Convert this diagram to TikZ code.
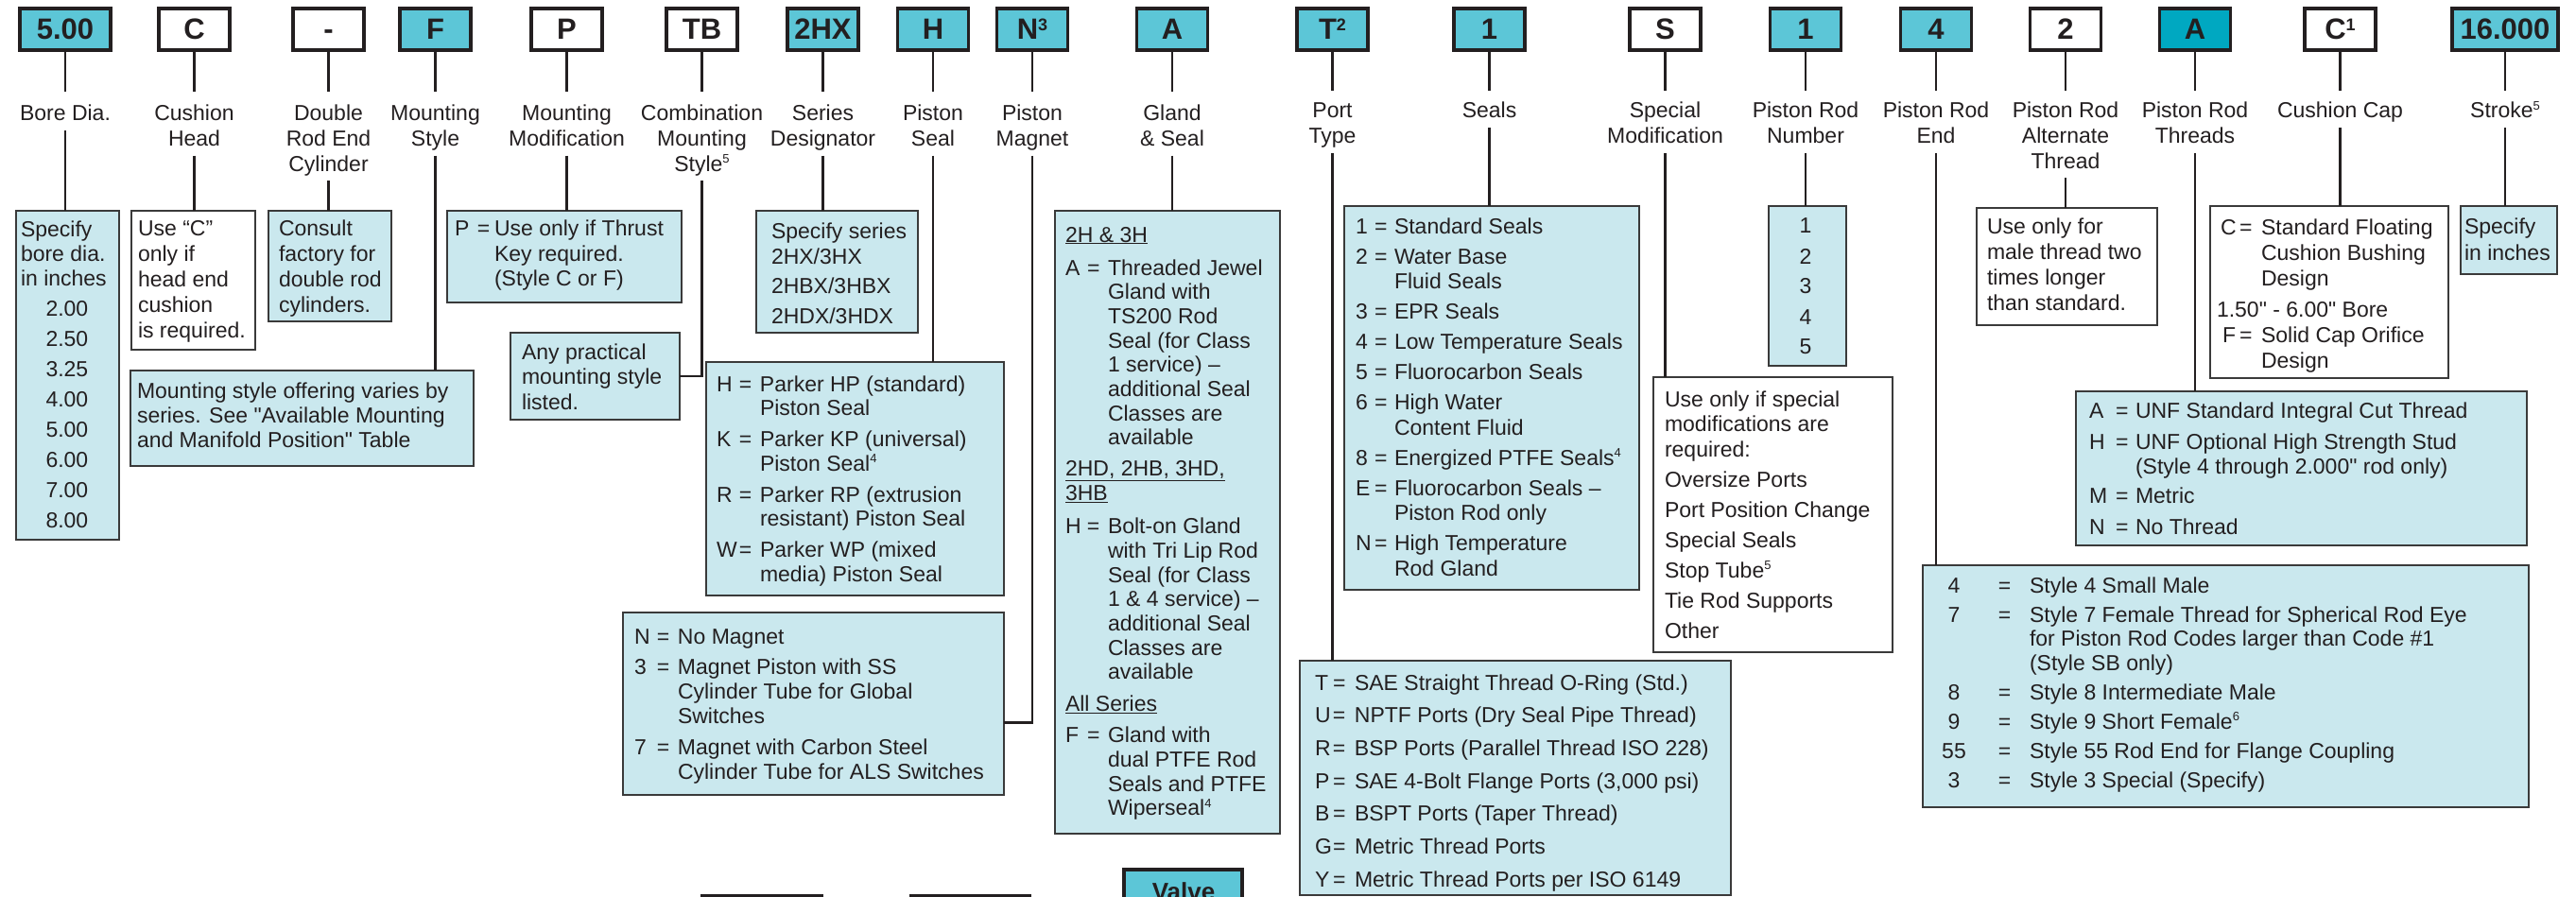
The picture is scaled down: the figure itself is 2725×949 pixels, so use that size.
\documentclass[tikz,border=0pt]{standalone}
\usepackage{fontspec}
\setmainfont{Liberation Sans}[Ligatures=TeXOff]
\usetikzlibrary{calc}
\definecolor{ink}{HTML}{231F20}
\definecolor{cyanbox}{HTML}{5CC6D7}
\definecolor{tealbox}{HTML}{00A8C1}
\definecolor{lightbox}{HTML}{CAE8EE}
\definecolor{frame}{HTML}{3A3A3A}
\newcommand\fs{\rule{0pt}{20pt}}
\newcommand\ls{\rule[-6pt]{0pt}{0pt}}
\newcommand\sups[1]{\raisebox{0.38em}{\fontsize{13}{13}\selectfont #1}}
\newcommand\topsup[1]{\raisebox{0.3em}{\fontsize{18}{18}\selectfont #1}}
\newcommand\kv[3]{\makebox[#1][l]{#3}\makebox[#2][l]{=}}
\begin{document}
\begin{tikzpicture}[x=1pt,y=-1pt,
 every node/.style={inner sep=0pt, outer sep=0pt, text=ink},
 code/.style={draw=ink, line width=3.4pt, minimum height=44pt, minimum width=75pt, text height=22pt, text depth=0pt, font=\fontsize{31}{31}\selectfont\bfseries},
 codec/.style={code, fill=cyanbox},
 codew/.style={code, fill=white},
 codet/.style={code, fill=tealbox},
 lab/.style={align=center, anchor=north, font=\fontsize{23}{26.7}\selectfont},
 txt/.style={align=left, anchor=north west, font=\fontsize{23}{26.3}\selectfont},
 infol/.style={draw=frame, fill=lightbox, line width=1.4pt, anchor=north west},
 infow/.style={draw=frame, fill=white, line width=1.4pt, anchor=north west},
 conn/.style={draw=ink, line width=2.5pt},
 down/.style={conn, shorten <=4pt},
]
\useasboundingbox (0,0) rectangle (2725,949);
\clip (0,0) rectangle (2725,949);
\fill[white] (0,0) rectangle (2725,949);

% ---------- top code boxes ----------
\node[codec, minimum width=96pt] (b1) at (69,31) {5.00};
\node[codew] (b2) at (205.5,31) {C};
\node[codew] (b3) at (347.5,31) {-};
\node[codec] (b4) at (460.5,31) {F};
\node[codew] (b5) at (599.5,31) {P};
\node[codew] (b6) at (742.5,31) {TB};
\node[codec] (b7) at (870.5,31) {2HX};
\node[codec] (b8) at (987,31) {H};
\node[codec] (b9) at (1092,31) {N\topsup{3}};
\node[codec] (b10) at (1240,31) {A};
\node[codec] (b11) at (1409.5,31) {T\topsup{2}};
\node[codec] (b12) at (1575.5,31) {1};
\node[codew] (b13) at (1761.5,31) {S};
\node[codec] (b14) at (1910,31) {1};
\node[codec] (b15) at (2048,31) {4};
\node[codew] (b16) at (2185,31) {2};
\node[codet] (b17) at (2322,31) {A};
\node[codew] (b18) at (2475.5,31) {C\topsup{1}};
\node[codec, minimum width=112pt] (b19) at (2650,31) {16.000};

% ---------- labels ----------
\node[lab] (l1) at (69,108) {\fs Bore Dia.\ls};
\node[lab] (l2) at (205.5,108) {\fs Cushion\\Head\ls};
\node[lab] (l3) at (347.5,108) {\fs Double\\Rod End\\Cylinder\ls};
\node[lab] (l4) at (460.5,108) {\fs Mounting\\Style\ls};
\node[lab] (l5) at (599.5,108) {\fs Mounting\\Modification\ls};
\node[lab] (l6) at (742.5,108) {\fs Combination\\Mounting\\Style\sups{5}\ls};
\node[lab] (l7) at (870.5,108) {\fs Series\\Designator\ls};
\node[lab] (l8) at (987,108) {\fs Piston\\Seal\ls};
\node[lab] (l9) at (1092,108) {\fs Piston\\Magnet\ls};
\node[lab] (l10) at (1240,108) {\fs Gland\\\& Seal\ls};
\node[lab] (l11) at (1409.5,105) {\fs Port\\Type\ls};
\node[lab] (l12) at (1575.5,105) {\fs Seals\ls};
\node[lab] (l13) at (1761.5,105) {\fs Special\\Modification\ls};
\node[lab] (l14) at (1910,105) {\fs Piston Rod\\Number\ls};
\node[lab] (l15) at (2048,105) {\fs Piston Rod\\End\ls};
\node[lab] (l16) at (2185,105) {\fs Piston Rod\\Alternate\\Thread\ls};
\node[lab] (l17) at (2322,105) {\fs Piston Rod\\Threads\ls};
\node[lab] (l18) at (2475.5,105) {\fs Cushion Cap\ls};
\node[lab] (l19) at (2650,105) {\fs Stroke\sups{5}\ls};

% ---------- info boxes ----------
\node[infol, minimum width=109pt, minimum height=348pt] (bore) at (17,223) {};
\node[infow, minimum width=131pt, minimum height=147pt] (usec) at (139,223) {};
\node[infol, minimum width=130pt, minimum height=117pt] (consult) at (284,223) {};
\node[infol, minimum width=363pt, minimum height=101pt] (mstyle) at (138,392) {};
\node[infol, minimum width=248pt, minimum height=97pt] (pbox) at (473,223) {};
\node[infol, minimum width=179pt, minimum height=92pt] (anyp) at (540,352) {};
\node[infol, minimum width=171pt, minimum height=129pt] (series) at (800,223) {};
\node[infol, minimum width=315pt, minimum height=247pt] (pseal) at (747,383) {};
\node[infol, minimum width=403pt, minimum height=193pt] (magnet) at (659,648) {};
\node[infol, minimum width=238pt, minimum height=659pt] (gland) at (1116,223) {};
\node[infol, minimum width=456pt, minimum height=248pt] (port) at (1375,699) {};
\node[infol, minimum width=312pt, minimum height=406pt] (seals) at (1422,218) {};
\node[infow, minimum width=253pt, minimum height=291pt] (special) at (1749,399) {};
\node[infol, minimum width=82pt, minimum height=169pt] (number) at (1871,218) {};
\node[infol, minimum width=641pt, minimum height=256pt] (rodend) at (2034,598) {};
\node[infow, minimum width=191pt, minimum height=124pt] (alt) at (2091,220) {};
\node[infol, minimum width=477pt, minimum height=163pt] (threads) at (2196,414) {};
\node[infow, minimum width=252pt, minimum height=182pt] (ccap) at (2338,218) {};
\node[infol, minimum width=102pt, minimum height=72pt] (stroke) at (2603,218) {};

% bottom (cut off) boxes
\node[draw=ink, line width=3.4pt, fill=cyanbox, anchor=north west, minimum width=125pt, minimum height=60pt] (valve) at (1189,920) {};
\node[font=\fontsize{26}{26}\selectfont\bfseries, anchor=base] (valvet) at (1252,952) {Valve};
\node[draw=ink, line width=3.4pt, fill=white, anchor=north west, minimum width=126pt, minimum height=40pt] (bx1) at (743,947.5) {};
\node[draw=ink, line width=3.4pt, fill=white, anchor=north west, minimum width=125pt, minimum height=40pt] (bx2) at (964,947.5) {};

% ---------- texts in boxes ----------
\node[txt] (tbore) at (22,230) {\fs Specify\\bore dia.\\in inches\\[5.7pt]\hspace*{26.5pt}2.00\\[5.7pt]\hspace*{26.5pt}2.50\\[5.7pt]\hspace*{26.5pt}3.25\\[5.7pt]\hspace*{26.5pt}4.00\\[5.7pt]\hspace*{26.5pt}5.00\\[5.7pt]\hspace*{26.5pt}6.00\\[5.7pt]\hspace*{26.5pt}7.00\\[5.7pt]\hspace*{26.5pt}8.00};
\node[txt, font=\fontsize{23}{27}\selectfont] (tusec) at (146,230) {\fs Use “C”\\only if\\head end\\cushion\\is required.};
\node[txt, font=\fontsize{23}{26.7}\selectfont] (tconsult) at (295,230) {\fs Consult\\factory for\\double rod\\cylinders.};
\node[txt, font=\fontsize{23}{26}\selectfont] (tmstyle) at (145,401) {\fs Mounting style offering varies by\\series. See "Available Mounting\\and Manifold Position" Table};
\node[txt, font=\fontsize{23}{26.5}\selectfont] (tpbox) at (481,230) {\fs\kv{24pt}{18pt}{P}Use only if Thrust\\\hspace*{42pt}Key required.\\\hspace*{42pt}(Style C or F)};
\node[txt, font=\fontsize{23}{26.5}\selectfont] (tanyp) at (552,360) {\fs Any practical\\mounting style\\listed.};
\node[txt] (tseries) at (816,233) {\fs Specify series\\2HX/3HX\\[5pt]2HBX/3HBX\\[5.7pt]2HDX/3HDX};
\node[txt, font=\fontsize{23}{25.5}\selectfont] (tpseal) at (758,394) {\fs\kv{24pt}{22pt}{H}Parker HP (standard)\\\hspace*{46pt}Piston Seal\\[7.5pt]\kv{24pt}{22pt}{K}Parker KP (universal)\\\hspace*{46pt}Piston Seal\sups{4}\\[7.5pt]\kv{24pt}{22pt}{R}Parker RP (extrusion\\\hspace*{46pt}resistant) Piston Seal\\[7.5pt]\kv{24pt}{22pt}{W}Parker WP (mixed\\\hspace*{46pt}media) Piston Seal};
\node[txt] (tmagnet) at (671,661) {\fs\kv{24pt}{22pt}{N}No Magnet\\[5.7pt]\kv{24pt}{22pt}{3}Magnet Piston with SS\\\hspace*{46pt}Cylinder Tube for Global\\\hspace*{46pt}Switches\\[6.7pt]\kv{24pt}{22pt}{7}Magnet with Carbon Steel\\\hspace*{46pt}Cylinder Tube for ALS Switches};
\node[txt, font=\fontsize{23}{25.7}\selectfont] (tgland) at (1127,236) {\fs\underline{2H \& 3H}\\[9.3pt]\kv{23pt}{22pt}{A}Threaded Jewel\\\hspace*{45pt}Gland with\\\hspace*{45pt}TS200 Rod\\\hspace*{45pt}Seal (for Class\\\hspace*{45pt}1 service) –\\\hspace*{45pt}additional Seal\\\hspace*{45pt}Classes are\\\hspace*{45pt}available\\[7.3pt]\underline{2HD, 2HB, 3HD,}\\\underline{3HB}\\[9.3pt]\kv{23pt}{22pt}{H}Bolt-on Gland\\\hspace*{45pt}with Tri Lip Rod\\\hspace*{45pt}Seal (for Class\\\hspace*{45pt}1 \& 4 service) –\\\hspace*{45pt}additional Seal\\\hspace*{45pt}Classes are\\\hspace*{45pt}available\\[8.3pt]\underline{All Series}\\[7.3pt]\kv{23pt}{22pt}{F}Gland with\\\hspace*{45pt}dual PTFE Rod\\\hspace*{45pt}Seals and PTFE\\\hspace*{45pt}Wiperseal\sups{4}};
\node[txt] (tport) at (1391,710) {\fs\kv{19pt}{23pt}{T}SAE Straight Thread O-Ring (Std.)\\[8.4pt]\kv{19pt}{23pt}{U}NPTF Ports (Dry Seal Pipe Thread)\\[8.4pt]\kv{19pt}{23pt}{R}BSP Ports (Parallel Thread ISO 228)\\[8.4pt]\kv{19pt}{23pt}{P}SAE 4-Bolt Flange Ports (3,000 psi)\\[8.4pt]\kv{19pt}{23pt}{B}BSPT Ports (Taper Thread)\\[8.4pt]\kv{19pt}{23pt}{G}Metric Thread Ports\\[8.4pt]\kv{19pt}{23pt}{Y}Metric Thread Ports per ISO 6149};
\node[txt, font=\fontsize{23}{26.5}\selectfont] (tseals) at (1434,227) {\fs\kv{20pt}{21pt}{1}Standard Seals\\[5.5pt]\kv{20pt}{21pt}{2}Water Base\\\hspace*{41pt}Fluid Seals\\[5.5pt]\kv{20pt}{21pt}{3}EPR Seals\\[5.5pt]\kv{20pt}{21pt}{4}Low Temperature Seals\\[5.5pt]\kv{20pt}{21pt}{5}Fluorocarbon Seals\\[5.5pt]\kv{20pt}{21pt}{6}High Water\\\hspace*{41pt}Content Fluid\\[5.5pt]\kv{20pt}{21pt}{8}Energized PTFE Seals\sups{4}\\[5.5pt]\kv{20pt}{21pt}{E}Fluorocarbon Seals –\\\hspace*{41pt}Piston Rod only\\[5.5pt]\kv{20pt}{21pt}{N}High Temperature\\\hspace*{41pt}Rod Gland};
\node[txt, font=\fontsize{23}{26.5}\selectfont] (tspecial) at (1761,410) {\fs Use only if special\\modifications are\\required:\\[5.5pt]Oversize Ports\\[5.5pt]Port Position Change\\[5.5pt]Special Seals\\[5.5pt]Stop Tube\sups{5}\\[5.5pt]Tie Rod Supports\\[5.5pt]Other};
\node[txt, align=center, anchor=north] (tnumber) at (1910,227) {\fs 1\\[5.7pt]2\\[5.7pt]3\\[5.7pt]4\\[5.7pt]5};
\node[txt, font=\fontsize{23}{25.5}\selectfont] (trodend) at (2040,607) {\fs\makebox[54pt]{4}\makebox[53pt]{=}Style 4 Small Male\\[5.5pt]\makebox[54pt]{7}\makebox[53pt]{=}Style 7 Female Thread for Spherical Rod Eye\\\hspace*{107pt}for Piston Rod Codes larger than Code \#1\\\hspace*{107pt}(Style SB only)\\[5.5pt]\makebox[54pt]{8}\makebox[53pt]{=}Style 8 Intermediate Male\\[5.5pt]\makebox[54pt]{9}\makebox[53pt]{=}Style 9 Short Female\sups{6}\\[5.5pt]\makebox[54pt]{55}\makebox[53pt]{=}Style 55 Rod End for Flange Coupling\\[5.5pt]\makebox[54pt]{3}\makebox[53pt]{=}Style 3 Special (Specify)};
\node[txt, font=\fontsize{23}{26.7}\selectfont] (talt) at (2102,228) {\fs Use only for\\male thread two\\times longer\\than standard.};
\node[txt, font=\fontsize{23}{26}\selectfont] (tthreads) at (2210,422) {\fs\kv{28pt}{21pt}{A}UNF Standard Integral Cut Thread\\[7pt]\kv{28pt}{21pt}{H}UNF Optional High Strength Stud\\\hspace*{49pt}(Style 4 through 2.000" rod only)\\[5pt]\kv{28pt}{21pt}{M}Metric\\[7pt]\kv{28pt}{21pt}{N}No Thread};
\node[txt, font=\fontsize{23}{27}\selectfont] (tccap) at (2349,228) {\fs\kv{20pt}{23pt}{C}Standard Floating\\\hspace*{43pt}Cushion Bushing\\\hspace*{43pt}Design\\[6pt]\hspace*{-4pt}1.50" - 6.00" Bore\\[0.5pt]\hspace*{2pt}\kv{18pt}{23pt}{F}Solid Cap Orifice\\\hspace*{43pt}Design};
\node[txt, font=\fontsize{23}{28}\selectfont] (tstroke) at (2607,228) {\fs Specify\\in inches};

% ---------- connectors: code box -> label ----------
\foreach \i in {1,...,10} {\draw[conn, shorten >=11pt] (b\i) -- (l\i);}
\foreach \i in {11,...,19} {\draw[conn, shorten >=9pt] (b\i) -- (l\i);}

% ---------- connectors: label -> info box ----------
\draw[down] (l1.south) -- (l1.south |- bore.north);
\draw[down] (l2.south) -- (l2.south |- usec.north);
\draw[down] (l3.south) -- (l3.south |- consult.north);
\draw[down] (l4.south) -- (l4.south |- mstyle.north);
\draw[down] (l5.south) -- (l5.south |- pbox.north);
\draw[down] (l6.south) |- (anyp.east);
\draw[down] (l7.south) -- (l7.south |- series.north);
\draw[down] (l8.south) -- (l8.south |- pseal.north);
\draw[down] (l9.south) |- ([yshift=-20pt]magnet.east);
\draw[down] (l10.south) -- (l10.south |- gland.north);
\draw[down] (l11.south) -- (l11.south |- port.north);
\draw[down] (l12.south) -- (l12.south |- seals.north);
\draw[down] (l13.south) -- (l13.south |- special.north);
\draw[down] (l14.south) -- (l14.south |- number.north);
\draw[down] (l15.south) -- (l15.south |- rodend.north);
\draw[down] (l16.south) -- (l16.south |- alt.north);
\draw[down] (l17.south) -- (l17.south |- threads.north);
\draw[down] (l18.south) -- (l18.south |- ccap.north);
\draw[down] (l19.south) -- (l19.south |- stroke.north);
\end{tikzpicture}
\end{document}
